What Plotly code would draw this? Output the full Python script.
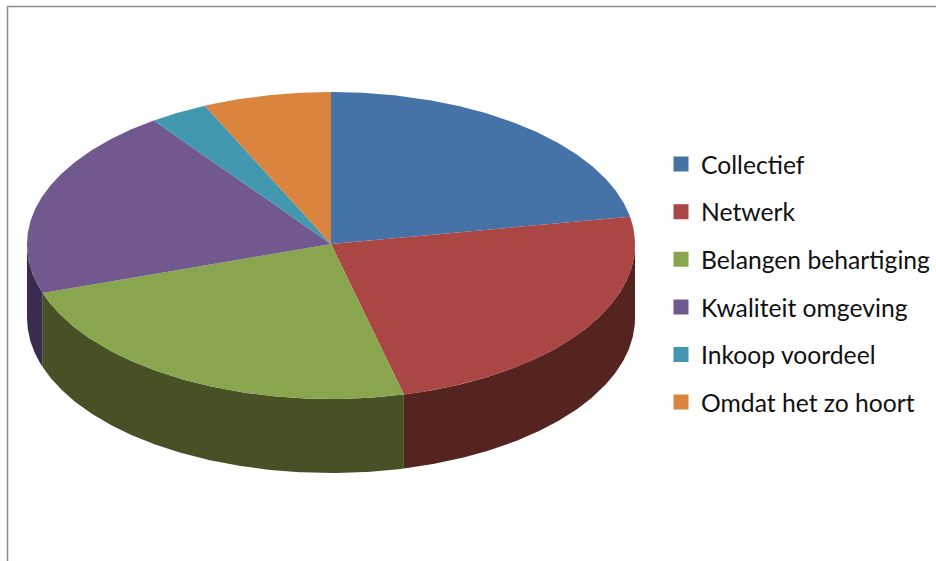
import numpy as np
import plotly.graph_objects as go

categories = ["Collectief", "Netwerk", "Belangen behartiging", "Kwaliteit omgeving", "Inkoop voordeel", "Omdat het zo hoort"]
shares = [22.1, 24.0, 23.7, 20.2, 3.1, 6.8]
top_colors = ["#4572A7", "#AA4643", "#89A54E", "#71588F", "#4198AF", "#DB843D"]
side_colors = ["#2A4465", "#552320", "#475125", "#3A2C4F", "#215A6A", "#7A4518"]

W, H = 936, 561
CX, CY, RX, RY, DEPTH = 331.0, 244.0, 304.0, 152.0, 74.0
FRONT_BULGE = 1.02  # the near half of the disc looks slightly larger in perspective
depth_u = DEPTH / RY

v = np.array(shares, dtype=float)
edges = np.concatenate([[0.0], np.cumsum(v)]) / v.sum() * 2 * np.pi


def rim_y(t):
    c = np.cos(t)
    return np.where(c < 0, c * FRONT_BULGE, c)


fig = go.Figure()

# side walls (only the front half of the disc is visible)
for name, a0, a1, c in zip(categories, edges[:-1], edges[1:], side_colors):
    lo, hi = max(a0, np.pi / 2), min(a1, 3 * np.pi / 2)
    if hi <= lo:
        continue
    t = np.linspace(lo, hi, 160)
    x = np.sin(t)
    y = rim_y(t)
    fig.add_trace(go.Scatter(
        x=np.concatenate([x, x[::-1]]), y=np.concatenate([y, y[::-1] - depth_u]),
        mode="lines", fill="toself", fillcolor=c, line=dict(width=0, color=c),
        hoverinfo="skip", showlegend=False))

# top faces
for name, a0, a1, c in zip(categories, edges[:-1], edges[1:], top_colors):
    t = np.linspace(a0, a1, 160)
    fig.add_trace(go.Scatter(
        x=np.concatenate([[0], np.sin(t), [0]]), y=np.concatenate([[0], rim_y(t), [0]]),
        mode="lines", fill="toself", fillcolor=c, line=dict(width=0, color=c),
        name=name, hoverinfo="name", showlegend=False))

# legend entries
for name, c in zip(categories, top_colors):
    fig.add_trace(go.Scatter(
        x=[None], y=[None], mode="markers", name=name, legendgroup=name,
        marker=dict(symbol="square", size=15, color=c)))

fig.update_layout(
    width=W, height=H, autosize=False,
    margin=dict(l=0, r=0, t=0, b=0),
    paper_bgcolor="white", plot_bgcolor="white",
    xaxis=dict(visible=False, range=[-CX / RX, (W - CX) / RX], fixedrange=True),
    yaxis=dict(visible=False, range=[-(H - CY) / RY, CY / RY], fixedrange=True),
    legend=dict(
        x=661 / W, y=1 - 141.5 / H, xanchor="left", yanchor="top",
        font=dict(family="Lato", size=24.7, color="#111111"),
        bgcolor="rgba(0,0,0,0)", borderwidth=0, tracegroupgap=12.5,
        traceorder="grouped", itemclick=False, itemdoubleclick=False),
    shapes=[dict(type="line", xref="paper", yref="paper", x0=7.5 / W, x1=7.5 / W, y0=0, y1=1 - 6.5 / H,
                 line=dict(color="#8c8c8c", width=1.5)),
            dict(type="line", xref="paper", yref="paper", x0=7 / W, x1=1, y0=1 - 6.5 / H, y1=1 - 6.5 / H,
                 line=dict(color="#8c8c8c", width=1.5))],
)
fig.write_html("out.html", config=dict(displayModeBar=False),
               post_script="document.body.style.margin='0';document.body.style.overflow='hidden';")
